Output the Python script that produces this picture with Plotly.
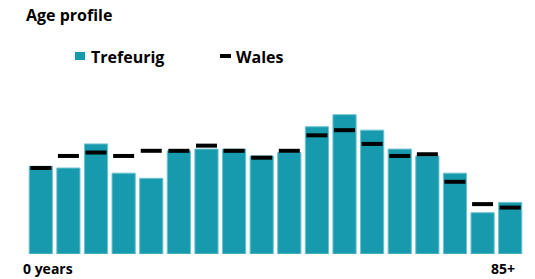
import plotly.graph_objects as go

age_groups = ["0-4", "5-9", "10-14", "15-19", "20-24", "25-29", "30-34", "35-39", "40-44",
              "45-49", "50-54", "55-59", "60-64", "65-69", "70-74", "75-79", "80-84", "85+"]
trefeurig = [5.1, 5.0, 6.4, 4.7, 4.4, 6.0, 6.1, 6.1, 5.7, 5.9, 7.4, 8.1, 7.2, 6.1, 5.7, 4.7, 2.4, 3.0]
wales = [5.0, 5.7, 5.9, 5.7, 6.0, 6.0, 6.3, 6.0, 5.6, 6.0, 6.9, 7.2, 6.4, 5.7, 5.8, 4.2, 2.9, 2.7]
first_label = "0 years"
last_label = "85+"

W, H = 535, 279
L, R, T, B = 27, 11, 80, 25
pw, ph = W - L - R, H - T - B
def px(x): return (x - L) / pw
def py(y): return (H - B - y) / ph

FONT = "Open Sans"
TEAL = "#189aae"

fig = go.Figure()
fig.add_trace(go.Bar(x=age_groups, y=trefeurig, name="Trefeurig",
                     marker=dict(color=TEAL, line=dict(color="#6cc3cf", width=1)),
                     hoverinfo="x+y"))
fig.add_trace(go.Scatter(x=age_groups, y=wales, name="Wales", mode="markers",
                         marker=dict(symbol="line-ew", size=15, color="black",
                                     line=dict(color="black", width=4))))

fig.update_layout(
    width=W, height=H,
    margin=dict(l=L, r=R, t=T, b=B),
    paper_bgcolor="white", plot_bgcolor="white",
    showlegend=False,
    bargap=0.16,
    title=dict(text="<b>Age profile</b>", x=26 / W, xanchor="left", xref="container",
               y=1 - 15.5 / H, yanchor="middle", yref="container",
               font=dict(family=FONT, size=16, color="black")),
    xaxis=dict(range=[-0.5, len(age_groups) - 0.5], showticklabels=False, showgrid=False,
               zeroline=False, showline=False, ticks=""),
    yaxis=dict(range=[0, ph / 17.2], showticklabels=False, showgrid=False, zeroline=False,
               showline=False, ticks=""),
)

# legend drawn manually
fig.add_shape(type="rect", xref="paper", yref="paper", x0=px(75), x1=px(85), y0=py(60), y1=py(52),
              fillcolor=TEAL, line=dict(width=0))
fig.add_shape(type="line", xref="paper", yref="paper", x0=px(220), x1=px(231), y0=py(56), y1=py(56),
              line=dict(color="black", width=4))
fig.add_annotation(text="<b>Trefeurig</b>", xref="paper", yref="paper", x=px(89), y=py(56.5),
                   xanchor="left", yanchor="middle", showarrow=False,
                   font=dict(family=FONT, size=16, color="black"))
fig.add_annotation(text="<b>Wales</b>", xref="paper", yref="paper", x=px(234), y=py(56.5),
                   xanchor="left", yanchor="middle", showarrow=False,
                   font=dict(family=FONT, size=16, color="black"))

# axis end labels
fig.add_annotation(text=f"<b>{first_label}</b>", x=age_groups[0], xref="x", y=py(268.5), yref="paper",
                   xanchor="center", yanchor="middle", xshift=7, showarrow=False,
                   font=dict(family=FONT, size=14, color="black"))
fig.add_annotation(text=f"<b>{last_label}</b>", x=age_groups[-1], xref="x", y=py(268.5), yref="paper",
                   xanchor="center", yanchor="middle", xshift=-7, showarrow=False,
                   font=dict(family=FONT, size=14, color="black"))

fig.write_html("out.html", config={"displayModeBar": False},
               post_script="document.body.style.margin='0';document.body.style.overflow='hidden';")
